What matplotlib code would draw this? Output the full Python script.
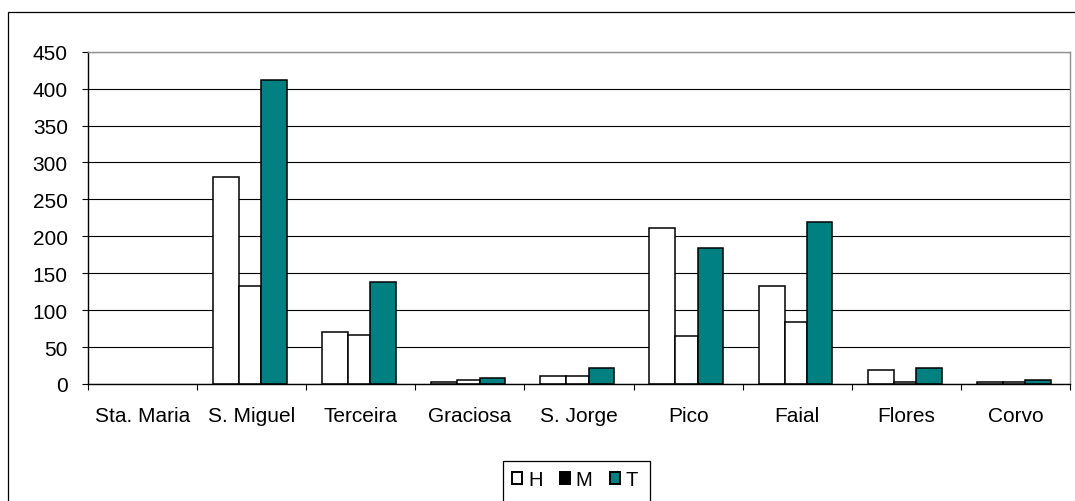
"""Grafico de barras H / M / T por ilha (Acores)."""
import matplotlib

matplotlib.use("Agg")

import matplotlib.pyplot as plt
import numpy as np
from matplotlib.patches import Patch, Rectangle

plt.rcParams["font.family"] = ["Liberation Sans", "DejaVu Sans"]

# dados
ilhas = ["Sta. Maria", "S. Miguel", "Terceira", "Graciosa", "S. Jorge",
         "Pico", "Faial", "Flores", "Corvo"]
h_vals = [0, 280, 70, 3, 11, 211, 133, 19, 3]
m_vals = [0, 133, 67, 5, 11, 65, 84, 3, 3]
t_vals = [0, 411, 138, 8, 22, 184, 219, 21, 5]
y_ticks = list(range(0, 451, 50))

W, H = 1075, 502
fig = plt.figure(figsize=(W / 100, H / 100), dpi=100)
ax = fig.add_axes([88 / W, 1 - 385 / H, (1070 - 88) / W, (385 - 52.7) / H])

x = np.arange(len(ilhas))
teal = "#008080"
# offsets dentro de cada categoria (como no Excel original)
series = [
    (h_vals, 0.146, 0.238, "white"),
    (m_vals, 0.384, 0.205, "white"),
    (t_vals, 0.589, 0.234, teal),
]
for vals, off, w, fc in series:
    lw = [0 if v == 0 else 1.1 for v in vals]  # barras vazias nao aparecem
    ax.bar(x - 0.5 + off, vals, width=w, align="edge", facecolor=fc,
           edgecolor="black", linewidth=lw, zorder=2)

ax.set_xlim(-0.5, len(ilhas) - 0.5)
ax.set_ylim(0, 450)
ax.set_yticks(y_ticks)
ax.set_xticks(x)
ax.set_xticklabels(ilhas)
ax.set_xticks(np.arange(-0.5, len(ilhas)), minor=True)
ax.tick_params(axis="x", which="major", length=0, pad=16, labelsize=15)
ax.tick_params(axis="x", which="minor", length=4, width=0.8, color="black")
ax.tick_params(axis="y", length=4.5, width=0.8, pad=10, labelsize=15)

ax.set_axisbelow(True)
ax.yaxis.grid(True, color="black", linewidth=0.8)
for s in ("left", "bottom"):
    ax.spines[s].set_color("black")
    ax.spines[s].set_linewidth(1.0)
for s in ("top", "right"):
    ax.spines[s].set_color("#909090")
    ax.spines[s].set_linewidth(1.0)
ax.spines["top"].set_zorder(3)

# moldura exterior do grafico
fig.patches.append(Rectangle((8 / W, -0.1), 1.2, 1.1 - 13 / H,
                             transform=fig.transFigure, fill=False,
                             edgecolor="black", linewidth=0.9))

# legenda
handles = [Patch(facecolor="white", edgecolor="black", linewidth=1.4),
           Patch(facecolor="black", edgecolor="black", linewidth=1.4),
           Patch(facecolor=teal, edgecolor="black", linewidth=1.4)]
fig.legend(handles, ["H", "M", "T"], loc="center left",
           bbox_to_anchor=(512 / W, 1 - 480.5 / H), ncol=3, frameon=False,
           fontsize=14.5, handlelength=0.5, handleheight=0.5,
           handletextpad=0.3, columnspacing=0.85, borderpad=0,
           borderaxespad=0)
fig.patches.append(Rectangle((503 / W, -0.1), (650 - 503) / W,
                             0.1 + 1 - 461.7 / H, transform=fig.transFigure,
                             fill=False, edgecolor="black", linewidth=0.9))

fig.savefig("out.png", dpi=100)
